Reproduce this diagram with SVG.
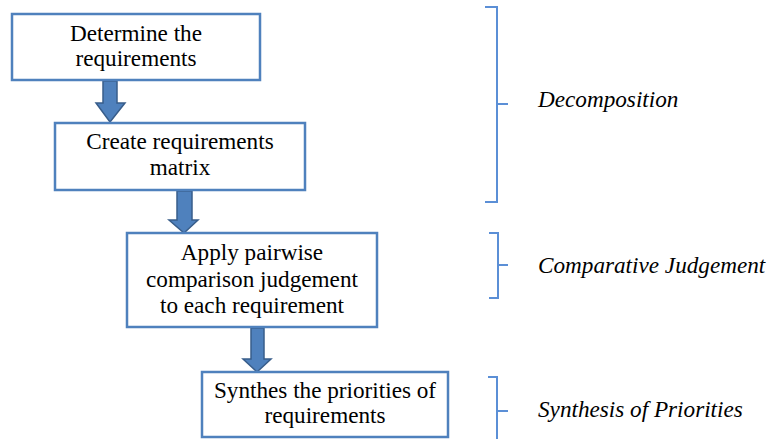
<svg xmlns="http://www.w3.org/2000/svg" width="769" height="439" viewBox="0 0 769 439">
<style>
.box{fill:#fff;stroke:#4f81bd;stroke-width:2.5}
.t{font-family:"Liberation Serif","Times New Roman",serif;font-size:23.2px;fill:#000;text-anchor:middle}
.lbl{font-family:"Liberation Serif","Times New Roman",serif;font-size:23.2px;font-style:italic;fill:#000}
.arr{fill:#4f81bd;stroke:#385d8a;stroke-width:1.5}
.br{fill:none;stroke:#5b8fd6;stroke-width:2}
</style>
<rect width="769" height="439" fill="#fff"/>
<g id="connectors">
<path class="arr" d="M103,81 H117 V103 H125 L110,122 L96,103 H103 Z"/>
<path class="arr" d="M177,191 H192 V220 H198 L184,233 L169,220 H177 Z"/>
<path class="arr" d="M251,328 H264 V359 H271 L257,372 L243,359 H251 Z"/>
</g>
<g id="node1">
<rect class="box" x="12" y="14" width="248" height="66"/>
<text class="t" x="136" y="41">Determine the</text>
<text class="t" x="136" y="66">requirements</text>
</g>
<g id="node2">
<rect class="box" x="55" y="123" width="250" height="67"/>
<text class="t" x="180" y="149">Create requirements</text>
<text class="t" x="180" y="175">matrix</text>
</g>
<g id="node3">
<rect class="box" x="127" y="233" width="250" height="94"/>
<text class="t" x="252" y="260">Apply pairwise</text>
<text class="t" x="252" y="287">comparison judgement</text>
<text class="t" x="252" y="313">to each requirement</text>
</g>
<g id="node4">
<rect class="box" x="202" y="372" width="246" height="65"/>
<text class="t" x="325" y="398">Synthes the priorities of</text>
<text class="t" x="325" y="423">requirements</text>
</g>
<g id="brace1">
<path class="br" d="M485,7 H497 V202 H485 M497,104 H508"/>
<text class="lbl" x="538" y="107">Decomposition</text>
</g>
<g id="brace2">
<path class="br" d="M489,233 H498 V298 H489 M498,265 H508"/>
<text class="lbl" x="538" y="273">Comparative Judgement</text>
</g>
<g id="brace3">
<path class="br" d="M488,377 H497 V445 M497,411 H508"/>
<text class="lbl" x="538" y="417">Synthesis of Priorities</text>
</g>
</svg>
